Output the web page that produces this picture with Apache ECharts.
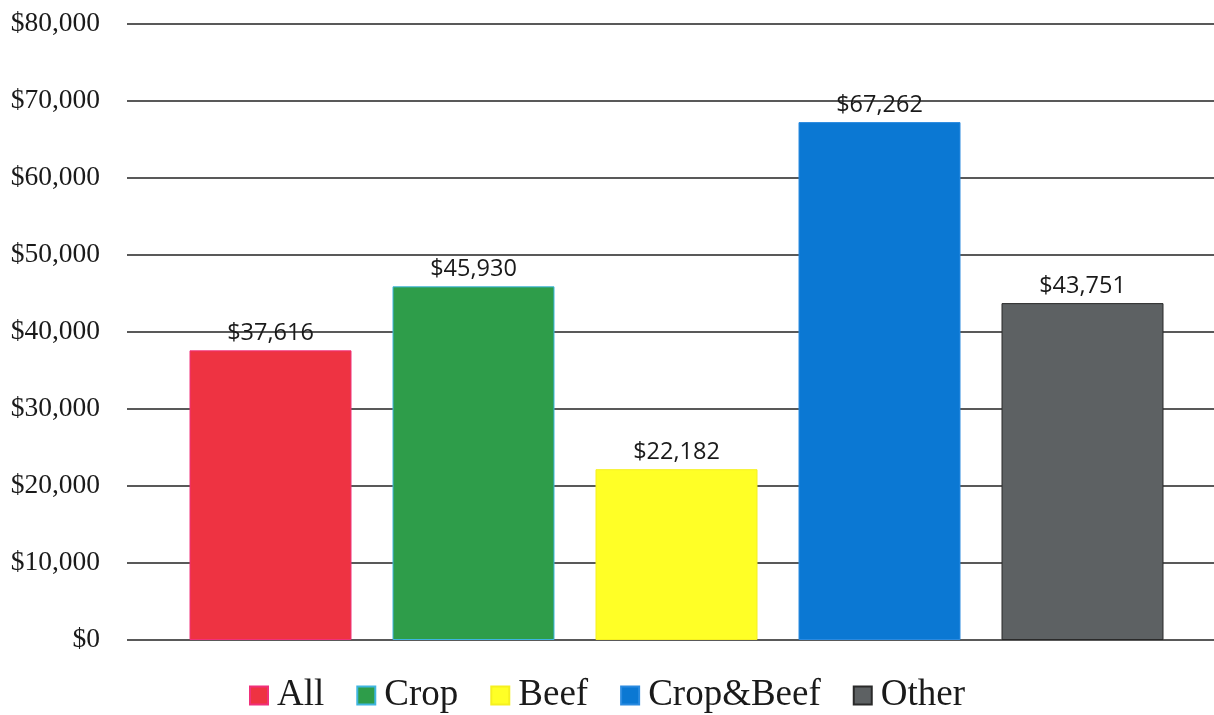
<!DOCTYPE html>
<html>
<head>
<meta charset="utf-8">
<script src="https://cdn.jsdelivr.net/npm/echarts@6/dist/echarts.min.js"></script>
<style>
  html, body { margin: 0; padding: 0; background: #fff; }
  #chart { width: 1214px; height: 715px; }
</style>
</head>
<body>
<div id="chart"></div>
<script>
// Average income by farm type
const categories = ['All', 'Crop', 'Beef', 'Crop&Beef', 'Other'];
const values = [37616, 45930, 22182, 67262, 43751];
const fillColors = ['#EE3342', '#2E9D4A', '#FFFF26', '#0B78D3', '#5D6163'];
const borderColors = ['#F0307A', '#3FB5E0', '#F5F020', '#2A8AE0', '#2A2A2A'];
const yTicks = { min: 0, max: 80000, interval: 10000 };

const money = v => '$' + Math.round(v).toLocaleString('en-US');

const chart = echarts.init(document.getElementById('chart'), null, { renderer: 'canvas' });

const series = categories.map((name, i) => ({
  name: name,
  type: 'bar',
  xAxisIndex: 0,
  yAxisIndex: 0,
  barWidth: 162,
  barGap: '-100%',
  data: categories.map((_, j) => (j === i ? values[i] : '-')),
  itemStyle: { color: fillColors[i], borderColor: borderColors[i], borderWidth: 1 },
  label: {
    show: true,
    position: 'top',
    distance: 5,
    formatter: p => money(p.value),
    fontFamily: '"Open Sans", "Noto Sans", sans-serif',
    fontSize: 23.5,
    color: '#1a1a1a'
  }
}));

chart.setOption({
  animation: false,
  backgroundColor: '#ffffff',
  legend: {
    bottom: -4,
    left: 'center',
    itemWidth: 18,
    itemHeight: 18,
    itemGap: 32,
    icon: 'rect',
    textStyle: { fontFamily: '"Liberation Serif", "DejaVu Serif", serif', fontSize: 37, color: '#1a1a1a', padding: [0, 0, 0, 4] },
    data: categories
  },
  grid: [
    // bars
    { left: 169, right: 30, top: 24, bottom: 75 },
    // gridlines and value labels
    { left: 127, right: 0, top: 24, bottom: 75 }
  ],
  xAxis: [
    {
      gridIndex: 0, type: 'category', data: categories,
      axisLine: { show: false }, axisTick: { show: false }, axisLabel: { show: false }
    },
    {
      gridIndex: 1, type: 'value', min: 0, max: 1, show: false
    }
  ],
  yAxis: [
    {
      gridIndex: 0, type: 'value', min: yTicks.min, max: yTicks.max, interval: yTicks.interval,
      show: false, splitLine: { show: false }
    },
    {
      gridIndex: 1, type: 'value', min: yTicks.min, max: yTicks.max, interval: yTicks.interval,
      z: 0,
      axisLine: { show: false }, axisTick: { show: false },
      axisLabel: {
        margin: 27,
        formatter: v => money(v),
        fontFamily: '"Liberation Serif", "DejaVu Serif", serif',
        fontSize: 27.5,
        color: '#1a1a1a'
      },
      splitLine: { show: true, lineStyle: { color: '#222', width: 1.5 } }
    }
  ],
  series: series
});
</script>
</body>
</html>
